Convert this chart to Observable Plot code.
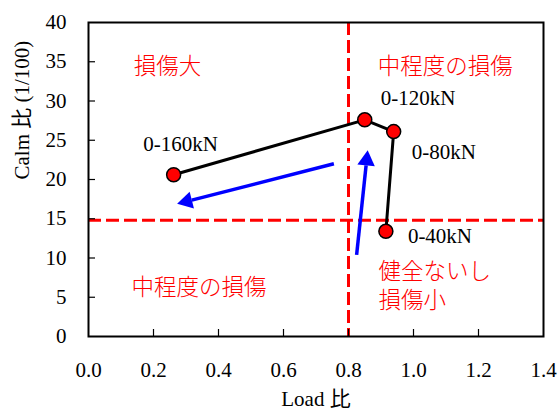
<!DOCTYPE html>
<html>
<head>
<meta charset="utf-8">
<script src="https://cdn.jsdelivr.net/npm/d3@7"></script>
<script src="https://cdn.jsdelivr.net/npm/@observablehq/plot@0.6"></script>
<style>
  html, body { margin: 0; padding: 0; background: #fff; }
</style>
</head>
<body>
<div id="chart"></div>
<script>
// Load ratio vs. Calm ratio at each loading step
const stepLabels = ["0-40kN", "0-80kN", "0-120kN", "0-160kN"];
const loadRatio  = [0.915, 0.939, 0.850, 0.262];
const calmRatio  = [13.4, 26.1, 27.6, 20.6];

// Damage thresholds
const loadThreshold = 0.8;
const calmThreshold = 14.8;

// Trend arrows (from -> to)
const arrowFromX = [0.755, 0.825];
const arrowFromY = [22.0, 10.4];
const arrowToX   = [0.273, 0.859];
const arrowToY   = [16.9, 23.7];

// Zone annotations
const zoneText = ["損傷大", "中程度の損傷", "中程度の損傷", "健全ないし\n損傷小"];
const zoneX    = [0.243, 1.098, 0.340, 0.892];
const zoneY    = [34.6, 34.6, 6.5, 6.7];
const zoneAnchor = ["middle", "middle", "middle", "start"];

// Axis ticks
const xTicks = [0, 0.2, 0.4, 0.6, 0.8, 1.0, 1.2, 1.4];
const yTicks = [0, 5, 10, 15, 20, 25, 30, 35, 40];

const W = 559, H = 419;
const mL = 88, mR = 16, mT = 22, mB = 83;
const plotW = W - mL - mR, plotH = H - mT - mB;
const xDomain = [0, 1.4], yDomain = [0, 40];
const kx = plotW / (xDomain[1] - xDomain[0]);
const ky = plotH / (yDomain[1] - yDomain[0]);

const serif = "Liberation Serif, Times New Roman, Noto Sans CJK JP, serif";
const cjk = "Noto Sans CJK JP, sans-serif";

// Build arrow shafts and heads (filled triangles) in data space
const headLen = 15, tipOffset = 10;
const arrows = arrowFromX.map((_, i) => {
  const dxp = (arrowToX[i] - arrowFromX[i]) * kx;
  const dyp = -(arrowToY[i] - arrowFromY[i]) * ky;
  const len = Math.hypot(dxp, dyp);
  const ux = dxp / len, uy = dyp / len;
  return {
    x1: arrowFromX[i], y1: arrowFromY[i],
    bx: arrowToX[i] - headLen * ux / kx, by: arrowToY[i] + headLen * uy / ky,
    cx: arrowToX[i] - tipOffset * ux / kx, cy: arrowToY[i] + tipOffset * uy / ky,
    angle: Math.atan2(ux, -uy) * 180 / Math.PI
  };
});

const points = stepLabels.map((label, i) => ({label, x: loadRatio[i], y: calmRatio[i]}));
const labelOffsets = [[22, 5], [18, 21], [16, -22], [7, -31]];
const labelAnchors = ["start", "start", "start", "middle"];

const zones = zoneText.map((t, i) => ({t, x: zoneX[i], y: zoneY[i], anchor: zoneAnchor[i]}));

const marks = [
  // threshold lines
  Plot.ruleY([calmThreshold], {stroke: "#ff0000", strokeWidth: 3, strokeDasharray: "13,5"}),
  Plot.ruleX([loadThreshold], {stroke: "#ff0000", strokeWidth: 3, strokeDasharray: "13,5"}),
  // inward ticks
  Plot.tickX(xTicks.slice(1, -1), {x: d => d, insetTop: plotH - 7, stroke: "#000", strokeWidth: 1.2}),
  Plot.tickY(yTicks.slice(1, -1), {y: d => d, insetRight: plotW - 7, stroke: "#000", strokeWidth: 1.2}),
  // tick labels
  Plot.axisX({ticks: xTicks, tickSize: 0, tickPadding: 26, tickFormat: d3.format(".1f"), label: null, fontSize: 21, fontFamily: serif}),
  Plot.axisY({ticks: yTicks, tickSize: 0, tickPadding: 22, label: null, fontSize: 21, fontFamily: serif}),
  // axis titles
  Plot.text(["Load 比"], {text: d => d, frameAnchor: "bottom", dy: 69, fontSize: 21, fontFamily: serif}),
  Plot.text(["Calm 比 (1/100)"], {text: d => d, frameAnchor: "left", rotate: -90, dx: -66, fontSize: 21, fontFamily: serif}),
  // zone annotations
  ...zones.map(z => Plot.text([z], {x: "x", y: "y", text: "t", textAnchor: z.anchor, lineHeight: 1.3, fill: "#ff0000", fontSize: 22.5, fontFamily: cjk, fontWeight: 300})),
  // trend arrows
  Plot.link(arrows, {x1: "x1", y1: "y1", x2: "bx", y2: "by", stroke: "#0000ff", strokeWidth: 3.5}),
  Plot.dot(arrows, {x: "cx", y: "cy", symbol: "triangle", r: 6.5, fill: "#0000ff", rotate: "angle"}),
  // data path and points
  Plot.line(points, {x: "x", y: "y", stroke: "#000", strokeWidth: 3}),
  Plot.dot(points, {x: "x", y: "y", r: 7, fill: "#ff0000", stroke: "#000", strokeWidth: 1.5}),
  ...points.map((p, i) => Plot.text([p], {x: "x", y: "y", text: "label", textAnchor: labelAnchors[i], dx: labelOffsets[i][0], dy: labelOffsets[i][1], fontSize: 21, fontFamily: serif})),
  Plot.frame({stroke: "#000", strokeWidth: 2})
];

const chart = Plot.plot({
  width: W,
  height: H,
  marginLeft: mL,
  marginRight: mR,
  marginTop: mT,
  marginBottom: mB,
  x: {domain: xDomain},
  y: {domain: yDomain},
  style: {fontFamily: serif, fontSize: "21px", color: "#000", background: "#fff", overflow: "visible"},
  marks
});
document.getElementById("chart").appendChild(chart);
</script>
</body>
</html>
